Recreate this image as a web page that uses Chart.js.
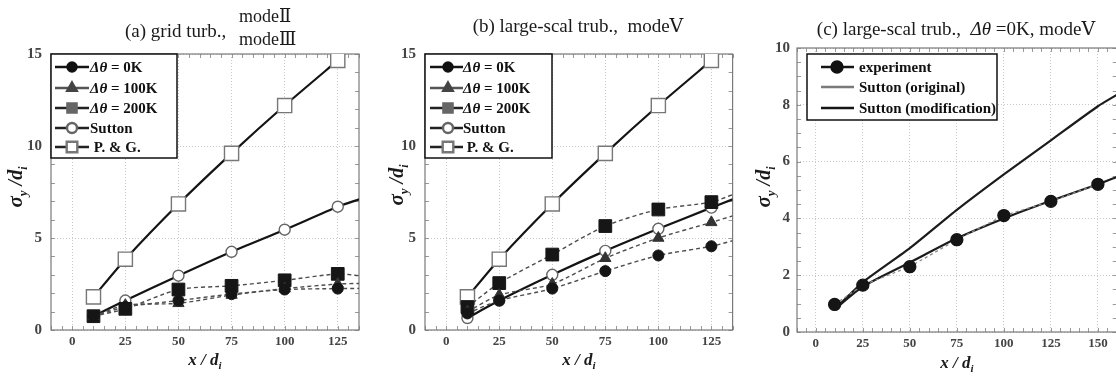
<!DOCTYPE html>
<html>
<head>
<meta charset="utf-8">
<script src="https://cdn.jsdelivr.net/npm/chart.js@4.4.1/dist/chart.umd.min.js"></script>
<style>
  html, body { margin: 0; padding: 0; background: #fff; overflow: hidden; }
  .panel { position: absolute; top: 0; height: 376px; }
</style>
</head>
<body>
<div class="panel" style="left:0;width:372px"><canvas id="ga"></canvas></div>
<div class="panel" style="left:372px;width:372px"><canvas id="gb"></canvas></div>
<div class="panel" style="left:744px;width:380px"><canvas id="gc"></canvas></div>
<script>
// ── datos ─────────────────────────────────────
const X_POS   = [10, 25, 50, 75, 100, 125]
const X_TICKS = [0, 25, 50, 75, 100, 125]
const X_END   = 135           // las curvas siguen hasta el borde

// (a) grid turb.
const A_DT0    = [0.75, 1.25, 1.6, 1.95, 2.2, 2.25]
const A_DT100  = [0.75, 1.35, 1.45, 1.9, 2.25, 2.5]
const A_DT200  = [0.75, 1.15, 2.2, 2.4, 2.7, 3.05]
const A_ENDS   = [2.26, 2.53, 2.95]          // 0K, 100K, 200K en x = 135

// (b) large-scal trub.
const B_DT0    = [0.9, 1.6, 2.25, 3.2, 4.05, 4.55]
const B_DT100  = [1.0, 1.9, 2.5, 3.9, 5.0, 5.85]
const B_DT200  = [1.25, 2.55, 4.1, 5.65, 6.55, 6.95]
const B_ENDS   = [4.85, 6.2, 7.35]

// modelos (iguales en a y b)
const SUTTON_A = [0.75, 1.6, 2.95, 4.25, 5.45, 6.7]
const SUTTON_B = [0.65, 1.6, 3.0, 4.3, 5.5, 6.65]
const SUTTON_END = 7.1
const PG       = [1.8, 3.85, 6.85, 9.6, 12.2, 14.65]

// (c) Δθ = 0K
const C_X        = [10, 25, 50, 75, 100, 125, 150]
const C_X_TICKS  = [0, 25, 50, 75, 100, 125, 150]
const C_X_END    = 160
const C_EXP      = [0.97, 1.65, 2.3, 3.25, 4.1, 4.6, 5.2]
const C_ORIG     = [0.8, 1.75, 2.95, 4.3, 5.55, 6.75, 7.95]
const C_ORIG_END = 8.35
const C_MOD      = [0.8, 1.6, 2.45, 3.3, 4.0, 4.62, 5.2]
const C_MOD_END  = 5.46

// ── estilo ────────────────────────────────────
const SERIF = "'Liberation Serif', 'DejaVu Serif', 'Noto Sans CJK JP', serif"
const fontOf = s => `${s.it ? 'italic ' : ''}${s.b ? 'bold ' : ''}${s.size || 15}px ${SERIF}`

function pts(xs, ys, endX, endY) {
  const p = xs.map((x, i) => ({ x, y: ys[i] }))
  if (endX !== undefined) p.push({ x: endX, y: endY, end: true })
  return p
}

function drawSegs(ctx, segs, x, y, align) {
  let w = 0
  segs.forEach(s => { ctx.font = fontOf(s); w += ctx.measureText(s.t).width })
  let cx = align === 'center' ? x - w / 2 : x
  segs.forEach(s => {
    ctx.font = fontOf(s)
    ctx.fillText(s.t, cx, y + (s.dy || 0))
    cx += ctx.measureText(s.t).width
  })
}

// marcador según estilo
function marker(ctx, m, x, y) {
  ctx.fillStyle = m.fill
  ctx.strokeStyle = m.stroke
  Chart.helpers.drawPoint(ctx, { pointStyle: m.style, radius: m.r, rotation: 0, borderWidth: m.bw || 1 }, x, y)
}

function dashedSet(label, data, m) {
  return {
    label, data,
    borderColor: '#4d4d4d', borderWidth: 1.4, borderDash: [4, 3],
    tension: 0.25,
    pointStyle: m.style,
    pointRadius: c => (c.raw && c.raw.end) ? 0 : m.r,
    pointBackgroundColor: m.fill, pointBorderColor: m.stroke, pointBorderWidth: 1
  }
}

function solidSet(label, data, m, color) {
  return {
    label, data,
    borderColor: color || '#141414', borderWidth: 2.2,
    tension: 0.2,
    pointStyle: m ? m.style : 'circle',
    pointRadius: c => (!m || (c.raw && c.raw.end)) ? 0 : m.r,
    pointBackgroundColor: m ? m.fill : '#000', pointBorderColor: m ? m.stroke : '#000',
    pointBorderWidth: m ? (m.bw || 1) : 0
  }
}

const M_DOT   = { style: 'circle',   r: 5.5, fill: '#151515', stroke: '#151515' }
const M_TRI   = { style: 'triangle', r: 6.5, fill: '#333',    stroke: '#333' }
const M_SQ    = { style: 'rect',     r: 9,   fill: '#161616', stroke: '#161616' }
const M_OCIR  = { style: 'circle',   r: 5.5, fill: '#fff',    stroke: '#666', bw: 1.4 }
const M_OSQ   = { style: 'rect',     r: 10,  fill: '#fff',    stroke: '#777', bw: 1.4 }

// ── plugin: marco, marcas menores, leyenda y textos ─
const decor = {
  id: 'decor',
  beforeDatasetsDraw(chart, args, o) {
    const { ctx, chartArea: a, scales: { x, y } } = chart
    ctx.save()
    ctx.strokeStyle = '#9a9a9a'
    ctx.lineWidth = 1
    ctx.beginPath()
    for (let v = Math.ceil(x.min / o.minorX) * o.minorX; v <= x.max; v += o.minorX) {
      const px = Math.round(x.getPixelForValue(v)) + 0.5
      ctx.moveTo(px, a.bottom); ctx.lineTo(px, a.bottom - 4)
      ctx.moveTo(px, a.top);    ctx.lineTo(px, a.top + 4)
    }
    for (let v = y.min; v <= y.max + 1e-9; v += o.minorY) {
      const py = Math.round(y.getPixelForValue(v)) + 0.5
      ctx.moveTo(a.left, py);  ctx.lineTo(a.left + 4, py)
      ctx.moveTo(a.right, py); ctx.lineTo(a.right - 4, py)
    }
    ctx.stroke()
    ctx.strokeStyle = '#7a7a7a'
    ctx.lineWidth = 1.2
    ctx.strokeRect(a.left, a.top, a.right - a.left, a.bottom - a.top)
    ctx.restore()
  },
  afterDraw(chart, args, o) {
    const { ctx, chartArea: a } = chart
    ctx.save()
    ctx.textBaseline = 'alphabetic'
    ctx.textAlign = 'left'

    // leyenda
    const L = o.legend
    ctx.fillStyle = '#fff'
    ctx.fillRect(L.x, L.y, L.w, L.h)
    ctx.strokeStyle = '#111'
    ctx.lineWidth = 1.5
    ctx.strokeRect(L.x, L.y, L.w, L.h)
    L.items.forEach((it, i) => {
      const ry = L.rows[i]
      ctx.strokeStyle = it.line
      ctx.lineWidth = 2.4
      ctx.beginPath(); ctx.moveTo(L.x0, ry); ctx.lineTo(L.x1, ry); ctx.stroke()
      if (it.m) marker(ctx, it.m, L.mx, ry)
      ctx.fillStyle = '#111'
      drawSegs(ctx, it.segs, L.tx, ry + 5, 'left')
    })

    // títulos
    ctx.fillStyle = '#1a1a1a'
    o.titles.forEach(t => drawSegs(ctx, t.segs, t.x, t.y, t.align))

    // título eje x
    drawSegs(ctx, [
      { t: 'x / d', it: true, b: true, size: 17 },
      { t: 'i', it: true, b: true, size: 11, dy: 4 }
    ], (a.left + a.right) / 2, o.xTitleY, 'center')

    // título eje y (rotado)
    ctx.translate(o.yTitleX + 6, o.yTitleY)
    ctx.rotate(-Math.PI / 2)
    drawSegs(ctx, [
      { t: 'σ', it: true, b: true, size: 21 },
      { t: 'y', it: true, b: true, size: 13, dy: 5 },
      { t: ' /d', it: true, b: true, size: 20 },
      { t: 'i', it: true, b: true, size: 12, dy: 5 }
    ], 0, 0, 'center')
    ctx.restore()
  }
}

function dtLabel(v) {
  return [{ t: 'Δθ', it: true, b: true }, { t: ' = ' + v, b: true }]
}

function legendAB() {
  return [
    { segs: dtLabel('0K'),   line: '#141414', m: { style: 'circle',   r: 4.5, fill: '#111', stroke: '#111' } },
    { segs: dtLabel('100K'), line: '#555',    m: { style: 'triangle', r: 5.5, fill: '#444', stroke: '#444' } },
    { segs: dtLabel('200K'), line: '#222',    m: { style: 'rect',     r: 6.5, fill: '#666', stroke: '#666' } },
    { segs: [{ t: 'Sutton', b: true }],   line: '#222', m: { style: 'circle', r: 5,   fill: '#fff', stroke: '#666', bw: 1.4 } },
    { segs: [{ t: ' P. & G.', b: true }], line: '#222', m: { style: 'rect',   r: 7.5, fill: '#fff', stroke: '#777', bw: 1.4 } }
  ]
}

// ── fábrica de paneles ────────────────────────
function panel(id, cfg) {
  const W = cfg.width, H = 376
  return new Chart(document.getElementById(id), {
    type: 'line',
    data: { datasets: cfg.datasets },
    plugins: [decor],
    options: {
      responsive: true,
      maintainAspectRatio: false,
      animation: false,
      layout: { padding: { top: cfg.area.top, right: W - cfg.area.right, bottom: 0, left: 0 } },
      plugins: {
        legend: { display: false },
        tooltip: { enabled: false },
        decor: cfg.decor
      },
      scales: {
        x: {
          type: 'linear', min: cfg.xMin, max: cfg.xMax,
          afterFit: s => { s.height = H - cfg.area.bottom },
          afterBuildTicks: s => { s.ticks = cfg.xTicks.map(v => ({ value: v })) },
          grid: { color: '#c8c8c8', drawTicks: false },
          border: { display: false, dash: [1, 2] },
          ticks: { padding: 4, color: '#444', font: { family: SERIF, size: 13, weight: 'bold' } }
        },
        y: {
          type: 'linear', min: cfg.yMin, max: cfg.yMax,
          afterFit: s => { s.width = cfg.area.left },
          afterBuildTicks: s => { s.ticks = cfg.yTicks.map(v => ({ value: v })) },
          grid: { color: '#c8c8c8', drawTicks: false },
          border: { display: false, dash: [1, 2] },
          ticks: { padding: cfg.yPad, color: '#444', font: { family: SERIF, size: 15, weight: 'bold' } }
        }
      }
    }
  })
}

// (a)
panel('ga', {
  width: 372,
  area: { left: 51, right: 359, top: 54, bottom: 330 },
  xMin: -10, xMax: X_END, xTicks: X_TICKS,
  yMin: 0, yMax: 15, yTicks: [0, 5, 10, 15], yPad: 9,
  datasets: [
    dashedSet('0K',   pts(X_POS, A_DT0,   X_END, A_ENDS[0]), M_DOT),
    dashedSet('100K', pts(X_POS, A_DT100, X_END, A_ENDS[1]), M_TRI),
    dashedSet('200K', pts(X_POS, A_DT200, X_END, A_ENDS[2]), M_SQ),
    solidSet('Sutton', pts(X_POS, SUTTON_A, X_END, SUTTON_END), M_OCIR),
    solidSet('P. & G.', pts(X_POS, PG), M_OSQ)
  ],
  decor: {
    minorX: 5, minorY: 1,
    xTitleY: 365, yTitleX: 16, yTitleY: 187,
    legend: { x: 51, y: 54, w: 126, h: 104, rows: [67, 88, 108, 128, 147], x0: 55, x1: 89, mx: 72, tx: 90, items: legendAB() },
    titles: [
      { x: 125, y: 37, segs: [{ t: '(a) grid turb.,', size: 19 }] },
      { x: 239, y: 22, segs: [{ t: 'modeⅡ', size: 18 }] },
      { x: 239, y: 45, segs: [{ t: 'modeⅢ', size: 18 }] }
    ]
  }
})

// (b)
panel('gb', {
  width: 372,
  area: { left: 53, right: 362, top: 54, bottom: 330 },
  xMin: -10, xMax: X_END, xTicks: X_TICKS,
  yMin: 0, yMax: 15, yTicks: [0, 5, 10, 15], yPad: 9,
  datasets: [
    dashedSet('0K',   pts(X_POS, B_DT0,   X_END, B_ENDS[0]), M_DOT),
    dashedSet('100K', pts(X_POS, B_DT100, X_END, B_ENDS[1]), M_TRI),
    dashedSet('200K', pts(X_POS, B_DT200, X_END, B_ENDS[2]), M_SQ),
    solidSet('Sutton', pts(X_POS, SUTTON_B, X_END, SUTTON_END), M_OCIR),
    solidSet('P. & G.', pts(X_POS, PG), M_OSQ)
  ],
  decor: {
    minorX: 5, minorY: 1,
    xTitleY: 365, yTitleX: 25, yTitleY: 185,
    legend: { x: 53, y: 54, w: 127, h: 104, rows: [67, 88, 108, 128, 147], x0: 58, x1: 91, mx: 76, tx: 91, items: legendAB() },
    titles: [
      { x: 206, y: 32, align: 'center', segs: [{ t: '(b) large-scal trub.,  modeⅤ', size: 19 }] }
    ]
  }
})

// (c)
panel('gc', {
  width: 380,
  area: { left: 53, right: 375, top: 48, bottom: 332 },
  xMin: -10, xMax: C_X_END, xTicks: C_X_TICKS,
  yMin: 0, yMax: 10, yTicks: [0, 2, 4, 6, 8, 10], yPad: 7,
  datasets: [
    {
      label: 'experiment', data: pts(C_X, C_EXP),
      borderColor: '#8a8a8a', borderWidth: 1.3, borderDash: [3, 3],
      pointStyle: 'circle', pointRadius: 6, pointBackgroundColor: '#151515', pointBorderColor: '#151515'
    },
    solidSet('Sutton (modification)', pts(C_X, C_MOD, C_X_END, C_MOD_END), null, '#1c1c1c'),
    solidSet('Sutton (original)', pts(C_X, C_ORIG, C_X_END, C_ORIG_END), null, '#1c1c1c')
  ],
  decor: {
    minorX: 5, minorY: 0.5,
    xTitleY: 368, yTitleX: 20, yTitleY: 187,
    legend: {
      x: 63, y: 54, w: 190, h: 66, rows: [67, 87, 108], x0: 77, x1: 110, mx: 93, tx: 115,
      items: [
        { segs: [{ t: 'experiment', b: true }], line: '#141414', m: { style: 'circle', r: 5.5, fill: '#111', stroke: '#111' } },
        { segs: [{ t: 'Sutton (original)', b: true }], line: '#7a7a7a' },
        { segs: [{ t: 'Sutton (modification)', b: true }], line: '#141414' }
      ]
    },
    titles: [
      { x: 212, y: 35, align: 'center', segs: [
        { t: '(c) large-scal trub.,  ', size: 19 },
        { t: 'Δθ', it: true, size: 19 },
        { t: ' =0K, modeⅤ', size: 19 }
      ] }
    ]
  }
})
</script>
</body>
</html>
